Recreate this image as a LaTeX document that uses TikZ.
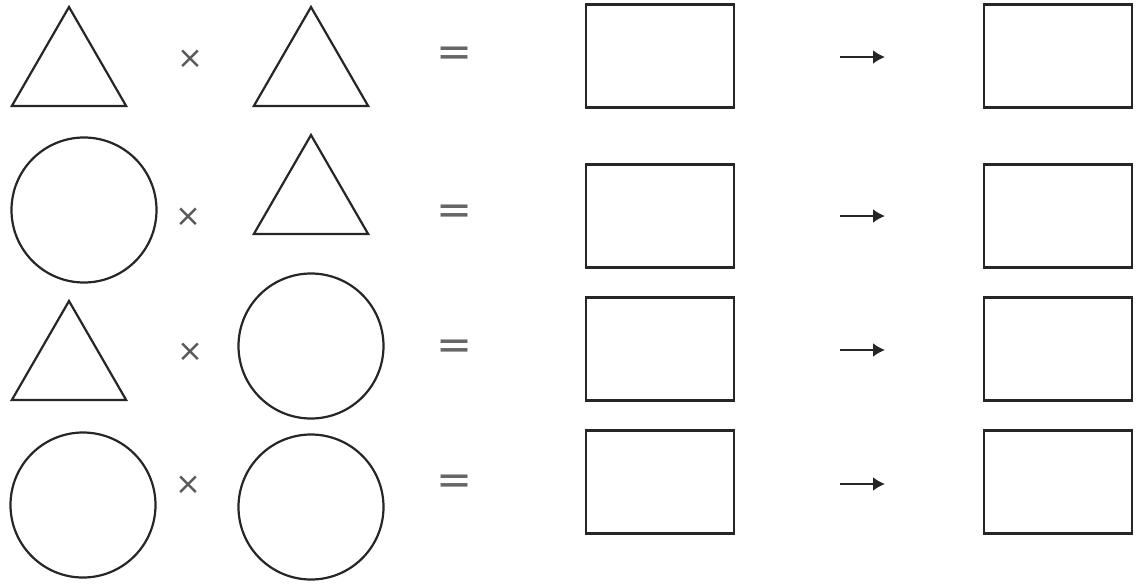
\documentclass[tikz,border=0pt]{standalone}
\usepackage{fontspec}
\newfontfamily\opfont{DejaVu Sans}
\usetikzlibrary{shapes.geometric,arrows.meta}
\begin{document}
\begin{tikzpicture}[x=1pt,y=-1pt,
  shp/.style={draw=black!85,line width=2.2pt,inner sep=0pt,outer sep=0pt},
  tri/.style={shp,regular polygon,regular polygon sides=3,minimum size=132pt},
  circ/.style={shp,circle,minimum size=145pt},
  box/.style={shp,rectangle,minimum width=148pt,minimum height=103pt},
  op/.style={text=black!65,inner sep=0pt,font=\opfont\fontsize{31}{31}\selectfont},
  eq/.style={text=black!60,inner sep=0pt,font=\opfont\fontsize{43}{43}\selectfont},
  arr/.style={line width=2.2pt,draw=black!85,-{Latex[length=12pt,width=14pt]}}]
\useasboundingbox (0,0) rectangle (1136,587);
% row 1
\node[tri] (a1) at (69,73) {};
\node[op] (x1) at (190,59) {×};
\node[tri] (b1) at (311,73) {};
\node[eq] (e1) at (455,57) {=};
\node[box] (r1) at (660,56) {};
\coordinate (s1) at (840,57); \coordinate (t1) at (885,57);
\draw[arr] (s1) -- (t1);
\node[box] (q1) at (1058,56) {};
% row 2
\node[circ] (a2) at (84,210) {};
\node[op] (x2) at (188,217) {×};
\node[tri] (b2) at (311,201) {};
\node[eq] (e2) at (455,215) {=};
\node[box] (r2) at (660,216) {};
\coordinate (s2) at (840,216); \coordinate (t2) at (885,216);
\draw[arr] (s2) -- (t2);
\node[box] (q2) at (1058,216) {};
% row 3
\node[tri] (a3) at (69,367) {};
\node[op] (x3) at (190,352) {×};
\node[circ] (b3) at (311,346) {};
\node[eq] (e3) at (455,350) {=};
\node[box] (r3) at (660,349) {};
\coordinate (s3) at (840,350); \coordinate (t3) at (885,350);
\draw[arr] (s3) -- (t3);
\node[box] (q3) at (1058,349) {};
% row 4
\node[circ] (a4) at (83,505) {};
\node[op] (x4) at (188,485) {×};
\node[circ] (b4) at (311,507) {};
\node[eq] (e4) at (455,485) {=};
\node[box] (r4) at (660,482) {};
\coordinate (s4) at (840,484); \coordinate (t4) at (885,484);
\draw[arr] (s4) -- (t4);
\node[box] (q4) at (1058,482) {};
\end{tikzpicture}
\end{document}
